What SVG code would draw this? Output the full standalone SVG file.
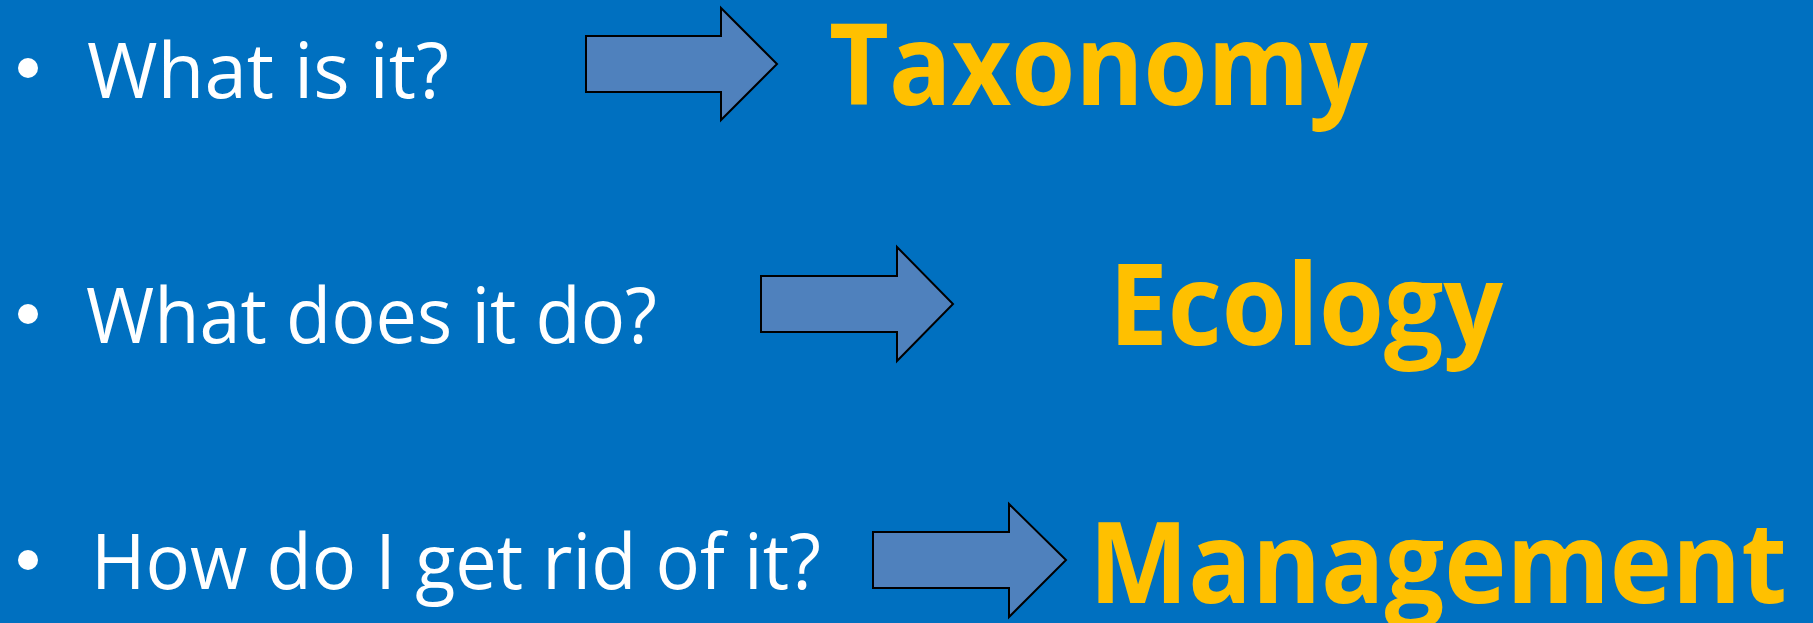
<svg xmlns="http://www.w3.org/2000/svg" width="1813" height="623" viewBox="0 0 1813 623">
<style>
.q{font-family:"Open Sans","Liberation Sans",sans-serif;font-size:76px;fill:#ffffff}
.a{font-family:"Open Sans","Liberation Sans",sans-serif;font-size:113px;font-weight:bold;fill:#ffc000}
.arrow{fill:#4f81bd;stroke:#000000;stroke-width:2}
.bullet{fill:#ffffff}
</style>
<rect x="0" y="0" width="1813" height="623" fill="#0070c0"/>
<g id="q1"><circle class="bullet" cx="28" cy="68" r="10"/><text class="q" x="87" y="98" textLength="362" lengthAdjust="spacingAndGlyphs">What is it?</text></g>
<g id="q2"><circle class="bullet" cx="28" cy="314" r="10"/><text class="q" x="86" y="343" textLength="571" lengthAdjust="spacingAndGlyphs">What does it do?</text></g>
<g id="q3"><circle class="bullet" cx="28" cy="560" r="10"/><text class="q" x="91" y="589" textLength="730" lengthAdjust="spacingAndGlyphs">How do I get rid of it?</text></g>
<g id="a1"><text class="a" x="829" y="105" textLength="539" lengthAdjust="spacingAndGlyphs">Taxonomy</text></g>
<g id="a2"><text class="a" x="1109" y="345" textLength="394" lengthAdjust="spacingAndGlyphs">Ecology</text></g>
<g id="a3"><text class="a" x="1089" y="603" textLength="698" lengthAdjust="spacingAndGlyphs">Management</text></g>
<g id="connectors">
<polygon class="arrow" points="586,36 721,36 721,8 777,64 721,120 721,92 586,92"/>
<polygon class="arrow" points="761,276 897,276 897,247 953,304 897,361 897,332 761,332"/>
<polygon class="arrow" points="873,532 1009,532 1009,504 1066,560 1009,617 1009,588 873,588"/>
</g>
</svg>
